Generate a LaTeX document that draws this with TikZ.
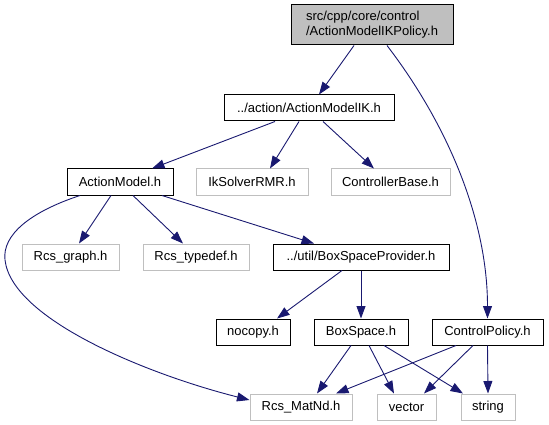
\documentclass[tikz,border=0pt]{standalone}
\usepackage{fontspec}
\setmainfont{Liberation Sans}
\usetikzlibrary{arrows.meta}
\definecolor{edgeblue}{HTML}{191970}
\definecolor{greyline}{HTML}{BFBFBF}
\tikzset{
  filebox/.style={draw=black, line width=1pt, inner sep=0pt, minimum height=26pt,
    font=\fontsize{13}{15}\selectfont, text=black},
  extbox/.style={filebox, draw=greyline},
  mainbox/.style={filebox, fill=greyline, minimum height=40pt, align=left},
  dep/.style={draw=edgeblue, line width=0.9pt, -{Triangle[length=12.5pt,width=9pt]}, fill=none}
}
\begin{document}
\begin{tikzpicture}[x=1pt,y=-1pt]
\useasboundingbox (0,0) rectangle (549,425);
\node[mainbox, minimum width=162pt] (top) at (372,25) {src/cpp/core/control\\/ActionModelIKPolicy.h};
\node[filebox, minimum width=170pt] (amik) at (309,108) {../action/ActionModelIK.h};
\node[filebox, minimum width=106pt] (am) at (120,182) {ActionModel.h};
\node[extbox, minimum width=112pt] (ik) at (252,182) {IkSolverRMR.h};
\node[extbox, minimum width=119pt] (cb) at (390.5,182) {ControllerBase.h};
\node[extbox, minimum width=97pt] (rg) at (70.5,257) {Rcs\_graph.h};
\node[extbox, minimum width=106pt] (rt) at (196,257) {Rcs\_typedef.h};
\node[filebox, minimum width=176pt] (bsp) at (361,257) {../util/BoxSpaceProvider.h};
\node[filebox, minimum width=74pt] (nc) at (253,332) {nocopy.h};
\node[filebox, minimum width=94pt] (bs) at (361,332) {BoxSpace.h};
\node[filebox, minimum width=111pt] (cp) at (487.5,332) {ControlPolicy.h};
\node[extbox, minimum width=102pt] (mn) at (301,407) {Rcs\_MatNd.h};
\node[extbox, minimum width=59pt] (vec) at (406.5,407) {vector};
\node[extbox, minimum width=54pt] (str) at (488,407) {string};

\draw[dep] ([xshift=-18pt]top.south) -- ([xshift=10pt]amik.north);
\draw[dep] ([xshift=15pt]top.south) .. controls (448,125) and (487.5,220) .. (cp.north);
\draw[dep] ([xshift=-34pt]amik.south) -- ([xshift=32pt]am.north);
\draw[dep] ([xshift=-10pt]amik.south) -- ([xshift=18pt]ik.north);
\draw[dep] ([xshift=14pt]amik.south) -- ([xshift=-16.5pt]cb.north);
\draw[dep] ([xshift=-9pt]am.south) -- ([xshift=8.5pt]rg.north);
\draw[dep] ([xshift=13pt]am.south) -- ([xshift=-13pt]rt.north);
\draw[dep] ([xshift=42pt]am.south) -- ([xshift=-47pt]bsp.north);
\draw[dep] ([xshift=-40pt]am.south) .. controls (30,212) and (2,235) .. (5,260)
  .. controls (12,320) and (150,375) .. ([yshift=7pt]mn.west);
\draw[dep] ([xshift=-19pt]bsp.south) -- ([xshift=24pt]nc.north);
\draw[dep] (bsp.south) -- (bs.north);
\draw[dep] ([xshift=-10pt]bs.south) -- ([xshift=16pt]mn.north);
\draw[dep] ([xshift=8pt]bs.south) -- ([xshift=-12.5pt]vec.north);
\draw[dep] ([xshift=23pt]bs.south) -- ([xshift=-25pt]str.north);
\draw[dep] ([xshift=-31.5pt]cp.south) -- ([xshift=35pt]mn.north);
\draw[dep] ([xshift=-14.5pt]cp.south) -- ([xshift=17.5pt]vec.north);
\draw[dep] (cp.south) -- (str.north);
\end{tikzpicture}
\end{document}
